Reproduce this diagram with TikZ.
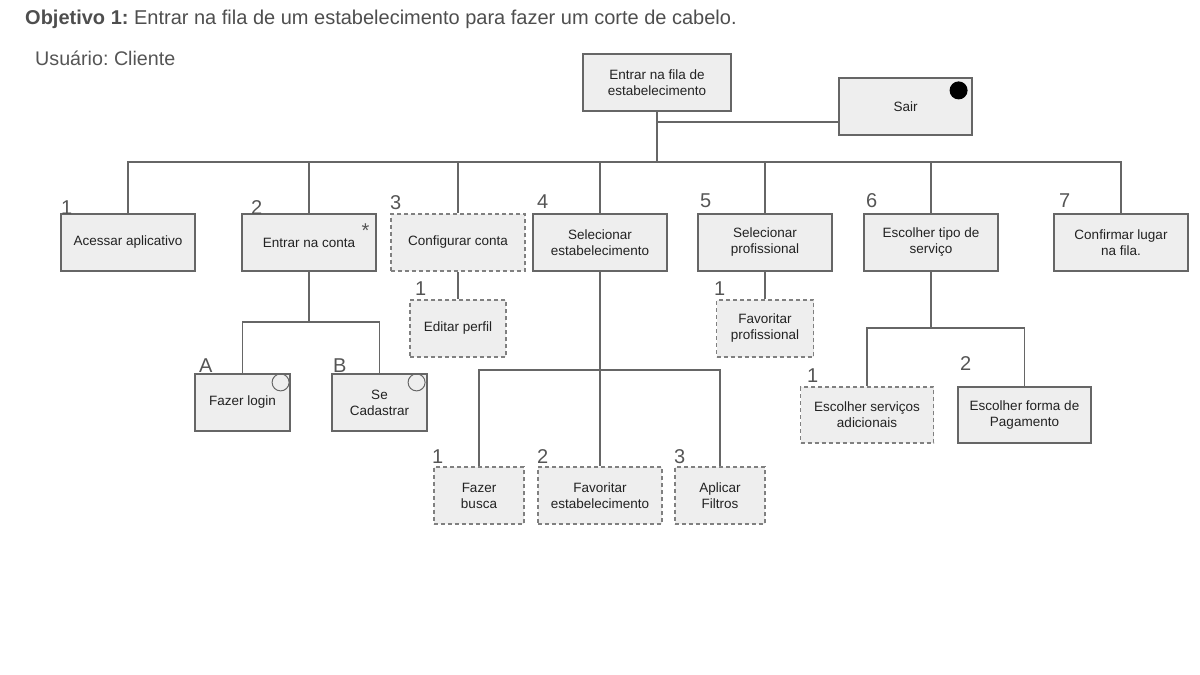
\documentclass[tikz,border=0pt]{standalone}
\usepackage{fontspec}
\setmainfont{Liberation Sans}
\usetikzlibrary{calc}
\frenchspacing
\definecolor{boxfill}{HTML}{EEEEEE}
\definecolor{boxline}{HTML}{666666}
\definecolor{dashline}{HTML}{808080}
\definecolor{txt}{HTML}{222222}
\definecolor{numgray}{HTML}{555555}
\tikzset{
	task/.style={draw=boxline, fill=boxfill, line width=1.2pt, minimum width=134pt, minimum height=57pt,
		inner sep=2pt, align=center, text=txt, font=\fontsize{13.5}{16}\selectfont},
	optional/.style={task, draw=dashline, dash pattern=on 4pt off 3pt},
	num/.style={anchor=south west, inner sep=0pt, text=numgray, font=\fontsize{20}{20}\selectfont},
	link/.style={draw=boxline, line width=1.2pt},
	mark circle/.style={draw=boxline, line width=1pt},
}

\begin{document}
\begin{tikzpicture}[x=1pt, y=-1pt]
	\useasboundingbox (0,0) rectangle (1200,675);

	% headings
	\node (title) [anchor=base west, inner sep=0pt, font=\fontsize{20}{22}\selectfont, text=txt!80]
		at (25,24) {\textbf{Objetivo 1:} Entrar na fila de um estabelecimento para fazer um corte de cabelo.};
	\node (user) [anchor=base west, inner sep=0pt, font=\fontsize{19.7}{22}\selectfont, text=numgray]
		at (35,65) {Usuário: Cliente};

	% top
	\node (root) [task, minimum width=148pt] at (657,82.5) {Entrar na fila de\\estabelecimento};
	\node (sair) [task, minimum width=133pt] at (905.5,106.5) {Sair};
	\fill[black] ([shift={(-14,13)}]sair.north east) circle (9pt);

	% level 1
	\node (acessar)   [task]     at (128,242.5)  {Acessar aplicativo};
	\node (conta)     [task]     at (309,242.5)  {Entrar na conta};
	\node (config)    [optional] at (458,242.5)  {Configurar conta};
	\node (selest)    [task]     at (600,242.5)  {Selecionar\\estabelecimento};
	\node (selprof)   [task]     at (765,242.5)  {Selecionar\\profissional};
	\node (tipo)      [task]     at (931,242.5)  {Escolher tipo de\\serviço};
	\node (confirmar) [task]     at (1121,242.5) {Confirmar lugar\\na fila.};
	\node (star) [inner sep=0pt, text=numgray, font=\fontsize{20}{20}\selectfont]
		at ([shift={(-11,17)}]conta.north east) {*};

	% level 2
	\node (login)    [task, minimum width=95pt] at (242.5,402.5) {Fazer login};
	\node (cadastro) [task, minimum width=95pt] at (379.5,402.5) {Se\\Cadastrar};
	\draw[mark circle] ([shift={(-10,9)}]login.north east) circle (8.5pt);
	\draw[mark circle] ([shift={(-11,9)}]cadastro.north east) circle (8.5pt);

	\node (editar)  [optional, minimum width=96pt] at (458,328.5) {Editar perfil};
	\node (favprof) [optional, minimum width=97pt] at (765,328.5) {Favoritar\\profissional};

	\node (busca)   [optional, minimum width=90pt]  at (479,495.5) {Fazer\\busca};
	\node (favest)  [optional, minimum width=124pt] at (600,495.5) {Favoritar\\estabelecimento};
	\node (filtros) [optional, minimum width=90pt]  at (720,495.5) {Aplicar\\Filtros};

	\node (adicionais) [optional, minimum width=133pt, minimum height=56pt] at (867,415) {Escolher serviços\\adicionais};
	\node (pagamento)  [task, minimum width=133pt, minimum height=56pt] at (1024.5,415) {Escolher forma de\\Pagamento};

	% numbers
	\node (n1) [num] at (61,215)  {1};
	\node (n2) [num] at (251,215) {2};
	\node (n3) [num] at (390,210) {3};
	\node (n4) [num] at (537,209) {4};
	\node (n5) [num] at (700,208) {5};
	\node (n6) [num] at (866,208) {6};
	\node (n7) [num] at (1059,208) {7};
	\node (nA) [num] at (199,373) {A};
	\node (nB) [num] at (333,373) {B};
	\node (n31) [num] at (415,296) {1};
	\node (n51) [num] at (714,296) {1};
	\node (n41) [num] at (432,464) {1};
	\node (n42) [num] at (537,464) {2};
	\node (n43) [num] at (674,464) {3};
	\node (n61) [num] at (807,383) {1};
	\node (n62) [num] at (960,371) {2};

	% connectors
	\coordinate (bus) at (657,162);
	\coordinate (exit) at (657,122);
	\draw[link] (root.south) -- (bus);
	\draw[link] (exit) -- (exit -| sair.west);
	\draw[link] (acessar.north) -- (acessar.north |- bus) -- (confirmar.north |- bus) -- (confirmar.north);
	\foreach \n in {conta, config, selest, selprof, tipo}
		\draw[link] (\n.north) -- (\n.north |- bus);

	\coordinate (contabus) at (309,322);
	\draw[link] (conta.south) -- (contabus);
	\draw[link] (login.north) -- (login.north |- contabus) -- (cadastro.north |- contabus) -- (cadastro.north);

	\draw[link] (config.south) -- (editar.north);
	\draw[link] (selprof.south) -- (favprof.north);

	\coordinate (estbus) at (600,370);
	\draw[link] (selest.south) -- (favest.north);
	\draw[link] (busca.north) -- (busca.north |- estbus) -- (filtros.north |- estbus) -- (filtros.north);

	\coordinate (tipobus) at (931,328);
	\draw[link] (tipo.south) -- (tipobus);
	\draw[link] (adicionais.north) -- (adicionais.north |- tipobus) -- (pagamento.north |- tipobus) -- (pagamento.north);
\end{tikzpicture}
\end{document}
